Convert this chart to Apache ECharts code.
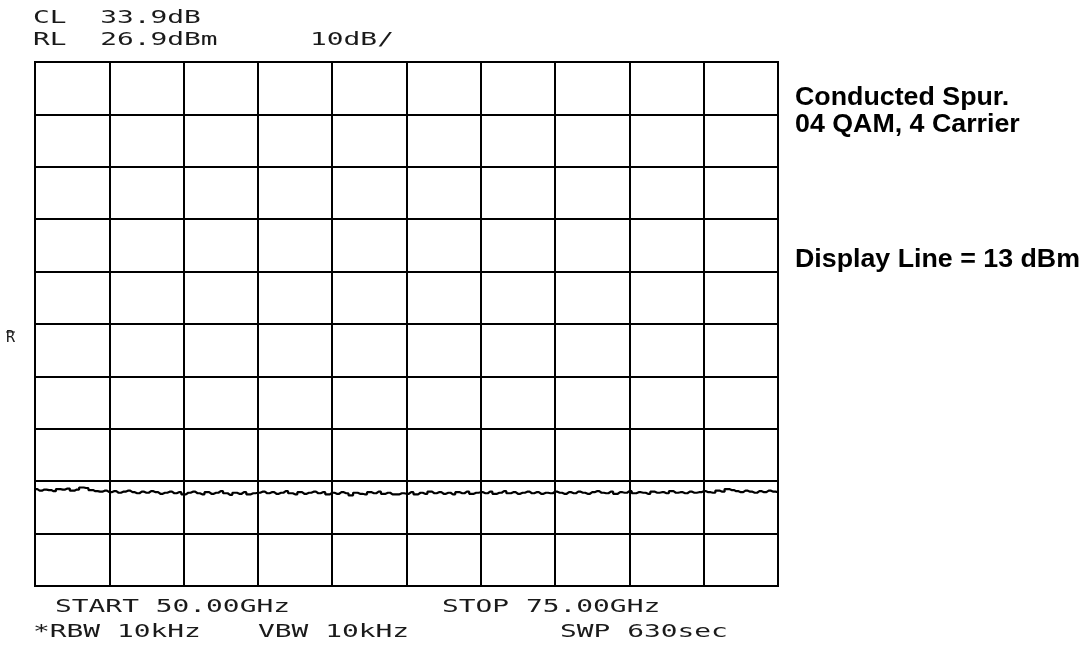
<!DOCTYPE html>
<html>
<head>
<meta charset="utf-8">
<script src="https://cdn.jsdelivr.net/npm/echarts@6/dist/echarts.min.js"></script>
<style>
  html, body { margin: 0; padding: 0; background: #fff; }
  #chart { width: 1091px; height: 657px; }
</style>
</head>
<body>
<div id="chart"></div>
<script>
// Spectrum analyzer sweep: 50 to 75 GHz, reference level 26.9 dBm, 10 dB/div
const startGHz = 50;
const stopGHz = 75;
const refLevel = 26.9;     // dBm at top graticule line
const dbPerDiv = 10;

// Measured trace, dBm (161 points across the span)
const traceDbm = [
  -54.6,-54.9,-54.7,-54.8,-55.0,-54.6,-54.7,-54.5,-54.9,-54.7,-54.3,-54.4,-54.8,-55.0,-55.1,-54.9,
  -55.2,-55.0,-55.3,-55.1,-54.9,-55.2,-55.4,-55.1,-55.3,-55.0,-55.2,-55.5,-55.3,-55.1,-55.4,-55.2,-55.6,
  -55.3,-55.1,-55.4,-55.6,-55.2,-55.5,-55.3,-55.0,-55.4,-55.7,-55.3,-55.5,-55.2,-55.6,-55.4,-55.3,
  -55.1,-55.4,-55.2,-55.5,-55.3,-55.0,-55.4,-55.6,-55.2,-55.5,-55.3,-55.1,-55.4,-55.2,-55.6,-55.3,
  -55.5,-55.2,-55.4,-55.8,-55.3,-55.5,-55.6,-55.2,-55.4,-55.1,-55.5,-55.3,-55.6,-55.6,-55.4,-55.5,
  -55.2,-55.6,-55.3,-55.5,-55.1,-55.4,-55.2,-55.5,-55.3,-55.6,-55.2,-55.4,-55.1,-55.5,-55.3,-55.2,
  -55.4,-55.1,-55.5,-55.3,-55.0,-55.4,-55.2,-55.5,-55.3,-55.1,-55.4,-55.2,-55.5,-55.3,-55.4,-55.1,
  -55.3,-55.5,-55.2,-55.4,-55.1,-55.3,-55.5,-55.2,-55.0,-55.3,-55.4,-55.1,-55.5,-55.2,-55.3,-55.0,
  -55.4,-55.2,-55.3,-55.5,-55.1,-55.3,-55.2,-55.4,-55.0,-55.3,-55.2,-55.4,-55.1,-55.3,-55.2,-55.0,
  -55.2,-55.3,-54.9,-55.1,-54.6,-54.8,-55.0,-55.2,-54.9,-55.1,-55.3,-55.0,-55.2,-54.9,-55.1,-55.2
];

// Annotation lines printed by the instrument
const headerLines = ['CL  33.9dB', 'RL  26.9dBm'];
const scaleLabel = '10dB/';
const startLabel = 'START 50.00GHz';
const stopLabel = 'STOP 75.00GHz';
const rbwLabel = '*RBW 10kHz';
const vbwLabel = 'VBW 10kHz';
const swpLabel = 'SWP 630sec';
const noteLines = ['Conducted Spur.', '04 QAM, 4 Carrier'];
const displayLineNote = 'Display Line = 13 dBm';

// Plot dB relative to the reference level so graticule lines fall on whole divisions
const step = (stopGHz - startGHz) / (traceDbm.length - 1);
const traceData = traceDbm.map((v, i) => [startGHz + i * step, v - refLevel]);

const monoFont = '"DejaVu Sans Mono", "Liberation Mono", monospace';
const noteFont = '"Liberation Sans", Arial, sans-serif';

// Instrument text: wide-pitch monospace, stretched horizontally like the plotter font
function monoText(text, x, y) {
  return {
    type: 'text', x: x, y: y, scaleX: 1.64, scaleY: 1,
    style: { text: text, fontFamily: monoFont, fontSize: 17, fill: '#1a1a1a',
             align: 'left', verticalAlign: 'top' }
  };
}
function noteText(text, x, y) {
  return {
    type: 'text', x: x, y: y, scaleX: 1.03, scaleY: 1,
    style: { text: text, fontFamily: noteFont, fontSize: 26, fontWeight: 'bold', fill: '#000',
             align: 'left', verticalAlign: 'top' }
  };
}

const gridLeft = 35, gridTop = 62, gridRight = 778, gridBottom = 586;

const chart = echarts.init(document.getElementById('chart'), null, { renderer: 'canvas' });

chart.setOption({
  animation: false,
  backgroundColor: '#ffffff',
  grid: { left: gridLeft, right: 1091 - gridRight, top: gridTop, bottom: 657 - gridBottom, containLabel: false },
  xAxis: {
    type: 'value',
    min: startGHz,
    max: stopGHz,
    interval: (stopGHz - startGHz) / 10,
    axisLine: { show: false },
    axisTick: { show: false },
    axisLabel: { show: false },
    splitLine: { show: true, lineStyle: { color: '#000', width: 2 } }
  },
  yAxis: {
    type: 'value',
    min: -10 * dbPerDiv,
    max: 0,
    interval: dbPerDiv,
    axisLine: { show: false },
    axisTick: { show: false },
    axisLabel: { show: false },
    splitLine: { show: true, lineStyle: { color: '#000', width: 2 } }
  },
  series: [{
    type: 'line',
    data: traceData,
    step: 'middle',
    symbol: 'none',
    lineStyle: { color: '#000', width: 2.2 }
  }],
  graphic: [
    // graticule border
    { type: 'rect', shape: { x: gridLeft, y: gridTop, width: gridRight - gridLeft, height: gridBottom - gridTop },
      style: { fill: null, stroke: '#000', lineWidth: 2 }, z: 10 },
    monoText(headerLines[0], 33, 10),
    monoText(headerLines[1], 33, 32),
    monoText(scaleLabel, 310, 32),
    // reference-level marker at the left edge
    { type: 'text', x: 6, y: 331,
      style: { text: 'R', fontFamily: monoFont, fontSize: 15, fill: '#1a1a1a', align: 'left', verticalAlign: 'top' } },
    { type: 'line', shape: { x1: 6, y1: 332, x2: 15, y2: 332 }, style: { stroke: '#1a1a1a', lineWidth: 1 } },
    monoText(startLabel, 55, 599),
    monoText(stopLabel, 442, 599),
    monoText(rbwLabel, 33, 624),
    monoText(vbwLabel, 258, 624),
    monoText(swpLabel, 560, 624),
    noteText(noteLines[0], 795, 85),
    noteText(noteLines[1], 795, 112),
    noteText(displayLineNote, 795, 247)
  ]
});
</script>
</body>
</html>
